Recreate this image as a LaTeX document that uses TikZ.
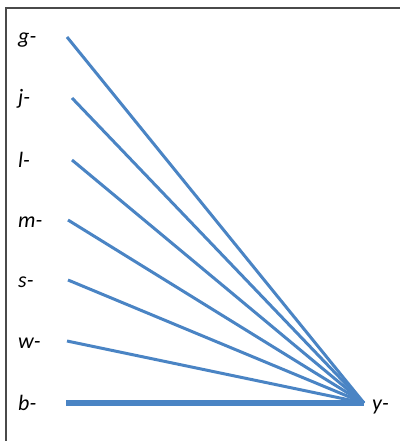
\documentclass[tikz,border=0pt]{standalone}
\usepackage{fontspec}
\setmainfont{Carlito}
\usetikzlibrary{positioning}
\definecolor{frame}{HTML}{4A4A4A}
\definecolor{lineblue}{HTML}{4A84C4}

\begin{document}
\begin{tikzpicture}[x=1pt, y=-1pt,
  lbl/.style={font=\itshape\fontsize{22}{22}\selectfont, anchor=base west, inner sep=0pt},
  link/.style={draw=lineblue, line width=3pt}]
  \useasboundingbox (0,0) rectangle (400,441);

  % Frame (cut off on the right and bottom)
  \draw[frame, line width=2pt] (6,441) -- (6,8) -- (400,8);

  % Hub on the right
  \coordinate (hub) at (364,403);
  \node[lbl] (y) at (372,410) {y-};

  % Initials and their links
  \foreach \name/\xs/\ys in {g/67/37, j/72/98, l/72/160, m/68/220, s/68/280, w/67/341} {
    \node[lbl] (\name) at (18,\ys+7) {\name-};
    \coordinate (\name-end) at (\xs,\ys);
    \draw[link] (\name-end) -- (hub);
  }

  % Horizontal one, drawn thicker
  \node[lbl] (b) at (18,410) {b-};
  \coordinate (b-end) at (66,403);
  \draw[link, line width=6pt] (b-end) -- (hub);
\end{tikzpicture}
\end{document}
